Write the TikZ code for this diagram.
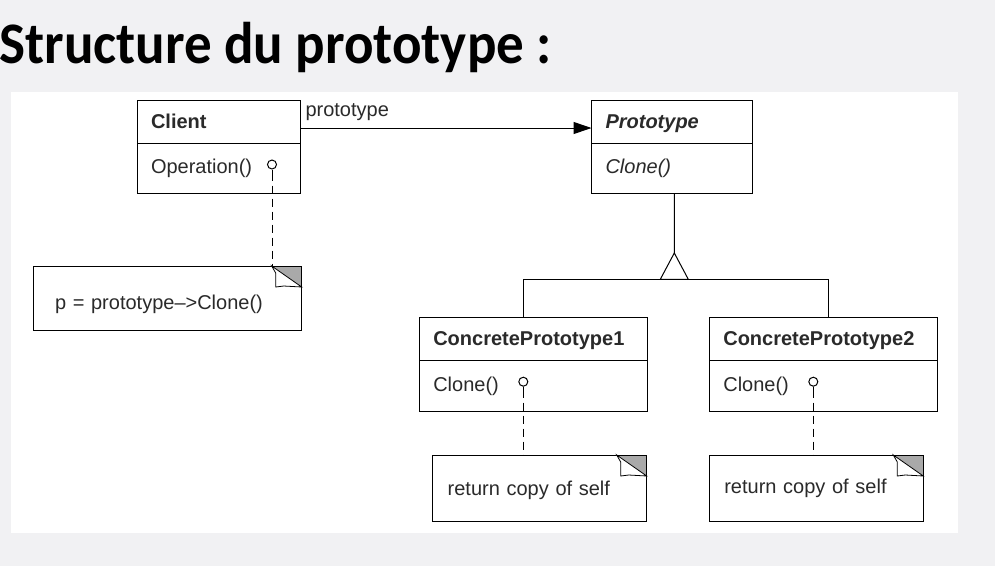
\documentclass[tikz,border=0pt]{standalone}
\usepackage{fontspec}
\setmainfont{Liberation Sans}
\newfontfamily\headfont{Carlito}
\usepackage{xcolor}
\usetikzlibrary{arrows.meta, positioning}

\definecolor{slidebg}{HTML}{F1F1F3}
\definecolor{textgray}{HTML}{2A2A2A}
\definecolor{foldgray}{HTML}{A9A9A9}

% dog-ear in the top right corner of a note
\newcommand{\notefold}[1]{%
  \fill[foldgray] ([xshift=-30pt]#1.north east) -- (#1.north east) -- ([yshift=-21pt]#1.north east) -- cycle;
  \filldraw[fill=white, line width=0.8pt] ([xshift=-30pt]#1.north east) -- ([xshift=-26pt,yshift=-7pt]#1.north east)
    -- ([xshift=-26pt,yshift=-21pt]#1.north east) -- ([xshift=-18pt,yshift=-20pt]#1.north east)
    -- ([yshift=-21pt]#1.north east) -- cycle;
  \draw ([xshift=-30pt]#1.north east) -- (#1.north east) -- ([yshift=-21pt]#1.north east);
}

\begin{document}
\begin{tikzpicture}[x=1pt, y=-1pt, line width=1pt]
        \tikzstyle{classhead} = [draw, anchor=north west, outer sep=0pt, minimum height=43pt, inner xsep=14pt, inner ysep=0pt, align=left, text depth=0pt, text=textgray, font=\fontsize{20}{24}\selectfont\bfseries]
        \tikzstyle{classbody} = [draw, outer sep=0pt, minimum height=50pt, inner xsep=14pt, inner ysep=0pt, align=left, text=textgray, font=\fontsize{20}{24}\selectfont]
        \tikzstyle{note} = [draw, anchor=north west, outer sep=0pt, minimum height=66pt, inner xsep=15pt, inner ysep=0pt, align=left, text depth=0pt, text=textgray, font=\fontsize{20}{24}\selectfont]
        \tikzstyle{lollipop} = [circle, draw, fill=white, minimum size=9pt, inner sep=0pt]
        \tikzstyle{notelink} = [dash pattern=on 8pt off 5pt]
        \tikzstyle{assoc} = [-{Triangle[length=18pt, width=12pt]}]

        \useasboundingbox (0,0) rectangle (995,566);
        \fill[slidebg] (0,0) rectangle (995,566);
        \fill[white] (10.5,91.5) rectangle (958,533);

        \node (title) [anchor=base west, inner sep=0pt, font=\headfont\bfseries\fontsize{55}{66}\selectfont] at (-1,63) {\scalebox{1}[1.07]{Structure du prototype :}};

        \node (clienthead) [classhead, text width=135.5pt] at (137,100) {Client};
        \node (clientbody) [classbody, text width=135.5pt, below=0pt of clienthead] {Operation()};
        \node (protohead) [classhead, text width=132.5pt] at (591.5,100) {\itshape Prototype};
        \node (protobody) [classbody, text width=132.5pt, below=0pt of protohead] {\itshape Clone()};
        \node (cp1head) [classhead, text width=200pt, minimum height=43.4pt] at (419.3,317.3) {ConcretePrototype1};
        \node (cp1body) [classbody, text width=200pt, minimum height=51pt, below=0pt of cp1head] {Clone()};
        \node (cp2head) [classhead, text width=200pt, minimum height=43.4pt] at (709.3,317.3) {ConcretePrototype2};
        \node (cp2body) [classbody, text width=200pt, minimum height=51pt, below=0pt of cp2head] {Clone()};

        \node (clientnote) [note, text width=225pt, inner xsep=21.7pt, minimum height=64pt, text height=22pt] at (33.3,266) {p = prototype--{}>Clone()};
        \node (cp1note) [note, text width=184pt, text height=14pt] at (432.7,455) {return copy of self};
        \node (cp2note) [note, text width=184pt, text height=11pt] at (709.3,455) {return copy of self};
        \notefold{clientnote}
        \notefold{cp1note}
        \notefold{cp2note}

        \node (clientlol) [lollipop] at (272,164.5) {};
        \node (cp1lol) [lollipop] at (523.3,381.7) {};
        \node (cp2lol) [lollipop] at (813.3,381.7) {};

        % client -> prototype
        \draw [assoc] ([yshift=-6.5pt]clienthead.east) -- ([yshift=-6.5pt]protohead.west)
            node [pos=0, anchor=base west, xshift=4.5pt, yshift=12pt, inner sep=0pt, text=textgray, font=\fontsize{20}{24}\selectfont] {prototype};

        % inheritance
        \coordinate (apex) at (674.3,253);
        \coordinate (bar) at (674.3,279.3);
        \draw ([xshift=2.6pt]protobody.south) -- (apex);
        \draw (apex) -- ++(-14,26.3) -- ++(28,0) -- cycle;
        \draw ([xshift=-10pt]cp1head.north) |- (bar) -| ([xshift=5pt]cp2head.north);

        % notes
        \draw (clientlol.south) -- ++(0,11);
        \draw [notelink] ([yshift=-16pt]clientlol.south) -- (clientlol |- clientnote.north);
        \draw (cp1lol.south) -- ++(0,11);
        \draw [notelink] ([yshift=-16pt]cp1lol.south) -- (cp1lol |- cp1note.north);
        \draw (cp2lol.south) -- ++(0,11);
        \draw [notelink] ([yshift=-16pt]cp2lol.south) -- (cp2lol |- cp2note.north);
    \end{tikzpicture}
\end{document}
